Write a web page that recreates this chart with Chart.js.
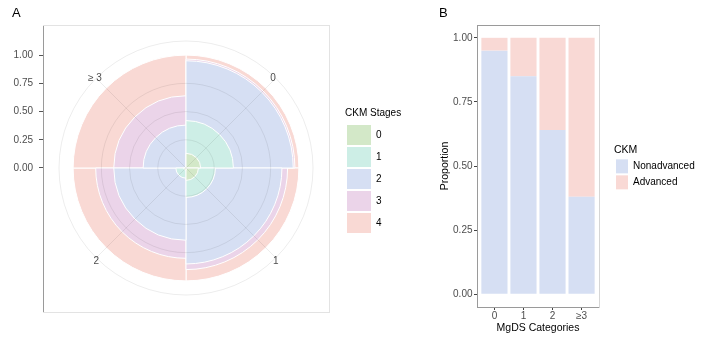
<!DOCTYPE html>
<html>
<head>
<meta charset="utf-8">
<script src="https://cdn.jsdelivr.net/npm/chart.js@4.4.1/dist/chart.umd.min.js"></script>
<style>
  html, body { margin: 0; padding: 0; background: #fff; }
  #wrap { position: relative; width: 701px; height: 345px; overflow: hidden; background: #fff; }
  #chartA { position: absolute; left: 0; top: 0; }
  #chartB { position: absolute; left: 430px; top: 0; }
</style>
</head>
<body>
<div id="wrap">
  <canvas id="chartA" width="430" height="345"></canvas>
  <canvas id="chartB" width="290" height="345"></canvas>
</div>
<script>
// --- Panel A: share of CKM stages in each MgDS category (polar, stacked) ---
const mgdsPolar = ["0", "1", "2", "≥ 3"];
const stageLabels = ["0", "1", "2", "3", "4"];
const stage0 = [0.13, 0.11, 0.02, 0.005];
const stage1 = [0.29, 0.15, 0.07, 0.01];
const stage2 = [0.53, 0.59, 0.55, 0.365];
const stage3 = [0.015, 0.05, 0.16, 0.26];
const stage4 = [0.035, 0.10, 0.20, 0.36];
const stageColors = ["#d3e8c8", "#cdeee6", "#d6dff3", "#ebd4e9", "#f9d9d4"];
const radialTicks = [0, 0.25, 0.5, 0.75, 1.125];
const axisTicksA = [0, 0.25, 0.5, 0.75, 1];

// --- Panel B: Nonadvanced vs Advanced ---
const mgdsBar = ["0", "1", "2", "≥3"];
const nonadvanced = [0.95, 0.85, 0.64, 0.38];
const advanced = [0.05, 0.15, 0.36, 0.62];
const axisTicksB = [0, 0.25, 0.5, 0.75, 1];
const ckmColors = ["#d6dff3", "#f9d9d5"];

const FONT = "'Liberation Sans', Arial, sans-serif";
Chart.defaults.font.family = FONT;
Chart.defaults.font.size = 10;
Chart.defaults.color = "#4d4d4d";

const GRID_A = "rgba(0,0,0,0.075)";
const FRAME_LIGHT = "#e3e3e3";
const FRAME_DARK = "#9a9a9a";

// polarArea draws dataset 0 last, so stacking = cumulative wedges, innermost first
const stages = [stage0, stage1, stage2, stage3, stage4];
const cumulative = stages.map((_, k) =>
  mgdsPolar.map((_, i) => stages.slice(0, k + 1).reduce((s, arr) => s + arr[i], 0))
);
// empty labels between quadrants -> angle lines and labels land on 45 degrees
const polarLabels = mgdsPolar.flatMap(c => ["", c]);

function frameAxis(position, size, color) {
  return {
    type: "linear", position: position, min: 0, max: 1,
    ticks: { display: false },
    grid: { display: false },
    border: { display: true, color: color, width: 1 },
    afterFit: (s) => {
      if (position === "top" || position === "bottom") s.height = size; else s.width = size;
    }
  };
}

new Chart(document.getElementById("chartA"), {
  type: "polarArea",
  data: {
    labels: polarLabels,
    datasets: cumulative.map((vals, k) => ({
      label: stageLabels[k],
      data: vals,
      backgroundColor: stageColors[k],
      borderColor: "#ffffff",
      borderWidth: 1
    }))
  },
  options: {
    responsive: false,
    animation: false,
    layout: { padding: { left: 12, top: 0, right: 25, bottom: 33 } },
    scales: {
      r: {
        min: 0,
        max: 1.125,
        afterBuildTicks: (s) => { s.ticks = radialTicks.map(v => ({ value: v })); },
        // invisible tick labels, only used to pad the radius
        ticks: { display: true, font: { size: 12 }, backdropPadding: 10, showLabelBackdrop: false, color: "rgba(0,0,0,0)", callback: () => "" },
        grid: { circular: true, color: GRID_A, lineWidth: 1, z: 1 },
        angleLines: {
          display: true, lineWidth: 1,
          color: (ctx) => ctx.index % 2 ? GRID_A : "rgba(0,0,0,0)"
        },
        pointLabels: {
          display: true, color: "#4d4d4d", font: { size: 10 },
          padding: (ctx) => (ctx.index === 1 || ctx.index === 7) ? -24 : -20
        }
      },
      y: {
        type: "linear", position: "left",
        min: -1.2756, max: 1.2667,
        afterBuildTicks: (s) => { s.ticks = axisTicksA.map(v => ({ value: v })); },
        afterFit: (s) => { s.width = 31; },
        ticks: { padding: 6, color: "#4d4d4d", font: { size: 10 }, callback: (v) => v.toFixed(2) },
        grid: { display: true, drawOnChartArea: false, drawTicks: true, tickLength: 4, tickColor: "#555555" },
        border: { display: true, color: FRAME_DARK, width: 1 }
      },
      y2: frameAxis("right", 16, FRAME_LIGHT),
      x: frameAxis("bottom", 0, FRAME_LIGHT),
      x2: frameAxis("top", 0, FRAME_LIGHT)
    },
    plugins: {
      title: {
        display: true, text: "A", align: "start", color: "#000",
        font: { size: 13, weight: "normal" }, padding: { top: 6, bottom: 3.4 }
      },
      legend: {
        position: "right", align: "start", maxWidth: 60,
        title: {
          display: true, position: "start", text: "CKM Stages", color: "#000",
          font: { size: 10 }, padding: { top: 108, bottom: 3 }
        },
        labels: {
          boxWidth: 24, boxHeight: 20, padding: 2, color: "#000", font: { size: 10 },
          // figure spaces keep the legend box wide enough for its title
          generateLabels: () => stageLabels.map((s, i) => ({
            text: s + "\u2007\u2007\u2007\u2007", fillStyle: stageColors[i], strokeStyle: stageColors[i],
            lineWidth: 0, hidden: false, datasetIndex: i
          }))
        }
      },
      tooltip: { enabled: false }
    }
  }
});

new Chart(document.getElementById("chartB"), {
  type: "bar",
  data: {
    datasets: [
      { label: "Nonadvanced", data: nonadvanced.map((v, i) => ({ x: i, y: v })), backgroundColor: ckmColors[0], borderWidth: 0 },
      { label: "Advanced", data: advanced.map((v, i) => ({ x: i, y: v })), backgroundColor: ckmColors[1], borderWidth: 0 }
    ]
  },
  options: {
    responsive: false,
    animation: false,
    layout: { padding: { left: 9, top: 0, right: 24, bottom: 0 } },
    datasets: { bar: { categoryPercentage: 1, barPercentage: 0.9 } },
    scales: {
      x: {
        type: "linear", position: "bottom", min: -0.6, max: 3.6, stacked: true, offset: false,
        afterBuildTicks: (s) => { s.ticks = mgdsBar.map((c, i) => ({ value: i })); },
        afterFit: (s) => { s.height = 38; },
        ticks: { callback: (v) => mgdsBar[v], color: "#4d4d4d", font: { size: 10 }, padding: 0, maxRotation: 0, autoSkip: false },
        grid: { display: true, offset: false, drawOnChartArea: false, tickLength: 3, tickColor: "#444444" },
        border: { display: true, color: FRAME_DARK, width: 1 },
        title: { display: true, text: "MgDS Categories", color: "#000", font: { size: 10.5 }, padding: { top: 0, bottom: 10.7 } }
      },
      y: {
        type: "linear", position: "left", min: -0.05, max: 1.05, stacked: true,
        afterBuildTicks: (s) => { s.ticks = axisTicksB.map(v => ({ value: v })); },
        afterFit: (s) => { s.width = 38; },
        ticks: { callback: (v) => v.toFixed(2), color: "#4d4d4d", font: { size: 10 }, padding: 1.5 },
        grid: { display: true, drawOnChartArea: false, tickLength: 3, tickColor: "#444444" },
        border: { display: true, color: FRAME_DARK, width: 1 },
        title: { display: true, text: "Proportion", color: "#000", font: { size: 10.5 }, padding: { top: 0, bottom: 0 } }
      },
      y2: frameAxis("right", 15, "#d6d6d6"),
      x2: frameAxis("top", 0, FRAME_DARK)
    },
    plugins: {
      title: {
        display: true, text: "B", align: "start", color: "#000",
        font: { size: 13, weight: "normal" }, padding: { top: 6, bottom: 3.4 }
      },
      legend: {
        position: "right", align: "start", maxWidth: 82,
        title: {
          display: true, position: "start", text: "CKM", color: "#000",
          font: { size: 10.5 }, padding: { top: 144.75, bottom: 0 }
        },
        labels: { boxWidth: 12, boxHeight: 14, padding: 2, color: "#000", font: { size: 10 } }
      },
      tooltip: { enabled: false }
    }
  }
});
</script>
</body>
</html>
